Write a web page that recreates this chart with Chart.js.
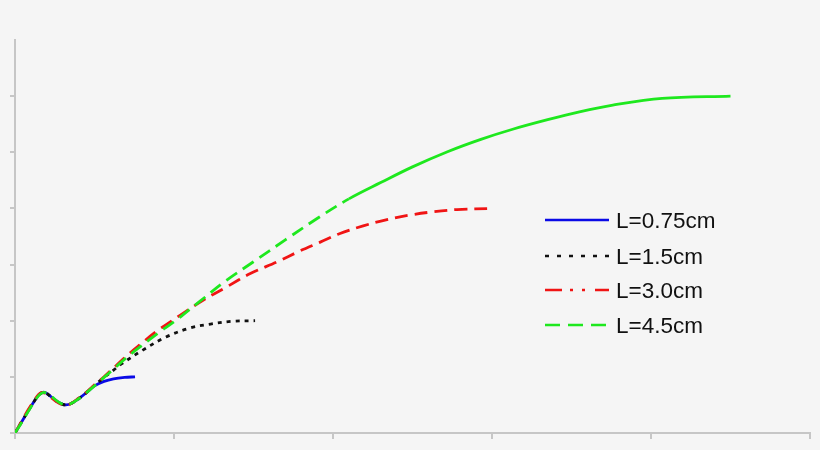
<!DOCTYPE html>
<html>
<head>
<meta charset="utf-8">
<script src="https://cdn.jsdelivr.net/npm/chart.js@4/dist/chart.umd.min.js"></script>
<style>
  html, body { margin: 0; padding: 0; background: #f5f5f5; }
  #wrap { width: 820px; height: 450px; position: relative; }
</style>
</head>
<body>
<div id="wrap"><canvas id="c"></canvas></div>
<script>
// ---- data ----
const seriesNames = ["L=0.75cm", "L=1.5cm", "L=3.0cm", "L=4.5cm"];

const blueX  = [0, 0.04, 0.08, 0.12, 0.15, 0.17, 0.19, 0.22, 0.26, 0.30, 0.32, 0.35, 0.40, 0.45, 0.50, 0.56, 0.62, 0.69, 0.755];
const blueY  = [0, 0.19, 0.38, 0.56, 0.68, 0.72, 0.72, 0.66, 0.57, 0.51, 0.50, 0.52, 0.61, 0.72, 0.84, 0.92, 0.965, 0.99, 1.0];

const blackX = [0, 0.04, 0.08, 0.12, 0.15, 0.17, 0.19, 0.22, 0.26, 0.30, 0.32, 0.35, 0.40, 0.45, 0.50, 0.56, 0.62, 0.67, 0.80, 0.95, 1.10, 1.23, 1.37, 1.51];
const blackY = [0, 0.19, 0.38, 0.56, 0.68, 0.72, 0.72, 0.66, 0.57, 0.51, 0.50, 0.52, 0.61, 0.72, 0.85, 0.99, 1.12, 1.23, 1.47, 1.71, 1.87, 1.94, 1.99, 2.0];

const redX   = [0, 0.04, 0.08, 0.12, 0.15, 0.165, 0.19, 0.22, 0.26, 0.30, 0.32, 0.35, 0.40, 0.45, 0.50, 0.56, 0.62, 0.70, 0.78, 0.89, 1.04, 1.18, 1.33, 1.48, 1.65, 1.79, 1.92, 2.04, 2.19, 2.34, 2.48, 2.63, 2.78, 3.01];
const redY   = [0, 0.20, 0.40, 0.58, 0.69, 0.72, 0.71, 0.65, 0.56, 0.50, 0.49, 0.52, 0.62, 0.73, 0.86, 1.00, 1.16, 1.37, 1.56, 1.81, 2.10, 2.36, 2.60, 2.84, 3.05, 3.24, 3.40, 3.55, 3.69, 3.80, 3.88, 3.94, 3.98, 4.0];

const greenX = [0, 0.04, 0.08, 0.12, 0.15, 0.175, 0.20, 0.23, 0.27, 0.30, 0.32, 0.35, 0.40, 0.45, 0.50, 0.56, 0.62, 0.70, 0.78, 0.90, 1.00, 1.16, 1.33, 1.50, 1.70, 1.90, 2.10, 2.30, 2.50, 2.72, 2.93, 3.13, 3.35, 3.55, 3.76, 4.07, 4.50];
const greenY = [0, 0.18, 0.37, 0.55, 0.67, 0.72, 0.71, 0.65, 0.56, 0.51, 0.50, 0.52, 0.61, 0.72, 0.84, 0.99, 1.14, 1.34, 1.52, 1.78, 1.98, 2.34, 2.72, 3.05, 3.44, 3.82, 4.17, 4.46, 4.74, 5.01, 5.23, 5.41, 5.58, 5.72, 5.84, 5.96, 6.0];

const xTickValues = [0, 1, 2, 3, 4, 5];
const yTickValues = [0, 1, 2, 3, 4, 5, 6, 7];

// ---- build ----
function pts(xs, ys) { return xs.map((x, i) => ({ x: x, y: ys[i] })); }

const colors = ['#0a0ae6', '#111111', '#f01414', '#1ee81e'];
const plotDash = [[], [4, 5], [13, 7], [13, 7]];
const legendDash = [[], [4, 8], [17, 8, 3, 9, 3, 10], [15, 8]];

const datasets = [
  { label: seriesNames[0], data: pts(blueX, blueY), borderColor: colors[0], borderDash: plotDash[0], order: 4 },
  { label: seriesNames[1], data: pts(blackX, blackY), borderColor: colors[1], borderDash: plotDash[1], order: 3 },
  { label: seriesNames[2], data: pts(redX, redY), borderColor: colors[2], borderDash: plotDash[2], order: 2 },
  { label: seriesNames[3], data: pts(greenX, greenY), borderColor: colors[3], borderDash: plotDash[3], order: 1,
    segment: { borderDash: ctx => ctx.p0.parsed.x >= 2.0 ? [] : plotDash[3] } }
].map(d => Object.assign({
  borderWidth: 2.8, pointRadius: 0, fill: false, tension: 0.35
}, d));

const axisColor = '#c6c6c6';

const legendPlugin = {
  id: 'inlineLegend',
  afterDraw(chart) {
    const ctx = chart.ctx;
    const x0 = 545, x1 = 609, tx = 616;
    const rows = [220, 256, 290, 325];
    ctx.save();
    chart.data.datasets.forEach((ds, i) => {
      const y = rows[i];
      ctx.beginPath();
      ctx.setLineDash(legendDash[i]);
      ctx.strokeStyle = ds.borderColor;
      ctx.lineWidth = 2.6;
      ctx.moveTo(x0, y);
      ctx.lineTo(x1, y);
      ctx.stroke();
      ctx.setLineDash([]);
      ctx.fillStyle = '#111111';
      ctx.font = '22.5px "Liberation Sans", Arial, sans-serif';
      ctx.textBaseline = 'alphabetic';
      ctx.textAlign = 'left';
      ctx.fillText(ds.label, tx, y + 8);
    });
    ctx.restore();
  }
};

new Chart(document.getElementById('c'), {
  type: 'line',
  data: { datasets: datasets },
  options: {
    responsive: true,
    maintainAspectRatio: false,
    animation: false,
    layout: { padding: { left: 10, right: 10, top: 40, bottom: 11 } },
    plugins: { legend: { display: false }, tooltip: { enabled: false } },
    scales: {
      x: {
        type: 'linear', min: 0, max: 5,
        afterBuildTicks: s => { s.ticks = xTickValues.map(v => ({ value: v })); },
        ticks: { display: false },
        grid: { drawOnChartArea: false, drawTicks: true, tickLength: 6, color: axisColor, lineWidth: 2 },
        border: { display: true, color: axisColor, width: 2 }
      },
      y: {
        type: 'linear', min: 0, max: 7,
        afterBuildTicks: s => { s.ticks = yTickValues.map(v => ({ value: v })); },
        ticks: { display: false },
        grid: { drawOnChartArea: false, drawTicks: true, tickLength: 5, lineWidth: 2,
                color: c => (c.tick && c.tick.value === 7) ? 'rgba(0,0,0,0)' : axisColor },
        border: { display: true, color: axisColor, width: 2 }
      }
    }
  },
  plugins: [legendPlugin]
});
</script>
</body>
</html>
